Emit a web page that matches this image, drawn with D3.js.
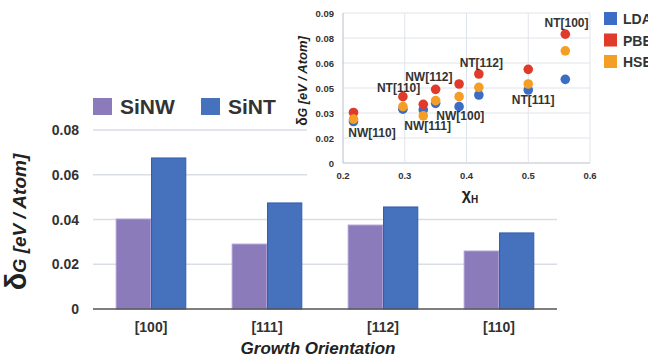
<!DOCTYPE html>
<html>
<head>
<meta charset="utf-8">
<script src="https://cdn.jsdelivr.net/npm/d3@7"></script>
<style>
  body { margin: 0; background: #fff; }
  svg { font-family: "Liberation Sans", Arial, sans-serif; display: block; }
</style>
</head>
<body>
<div id="chart"></div>
<script>
// main bar chart data
var orientations = ["[100]", "[111]", "[112]", "[110]"];
var sinw = [0.0402, 0.0290, 0.0375, 0.0259];
var sint = [0.0675, 0.0474, 0.0456, 0.0340];
var barTicks = [0, 0.02, 0.04, 0.06, 0.08];

// inset scatter data
var chiH = [0.217, 0.297, 0.330, 0.350, 0.388, 0.420, 0.500, 0.560];
var lda = [0.0249, 0.0323, 0.0319, 0.0358, 0.0338, 0.0408, 0.0438, 0.0502];
var pbe = [0.0303, 0.0398, 0.0352, 0.0442, 0.0474, 0.0534, 0.0562, 0.0773];
var hse = [0.0263, 0.0338, 0.0283, 0.0374, 0.0398, 0.0454, 0.0474, 0.0673];
var insetYTicks = [0, 0.015, 0.03, 0.045, 0.06, 0.075, 0.09];
var insetYLabels = ["0", "0.02", "0.03", "0.05", "0.06", "0.08", "0.09"];
var insetXTicks = [0.2, 0.3, 0.4, 0.5, 0.6];
// point labels, anchored in data space
var labelNames = ["NW[110]", "NT[110]", "NW[111]", "NW[112]", "NW[100]", "NT[112]", "NT[111]", "NT[100]"];
var labelX = [0.247, 0.290, 0.337, 0.339, 0.390, 0.424, 0.508, 0.562];
var labelY = [0.0156, 0.0426, 0.0198, 0.0490, 0.0258, 0.0576, 0.0354, 0.0816];

var width = 648, height = 358;
var svg = d3.select("#chart").append("svg")
    .attr("width", width).attr("height", height);

svg.append("rect").attr("width", width).attr("height", height).attr("fill", "#fff");

// ---------- main chart ----------
var main = {left: 93, right: 557, top: 130, bottom: 309};
var x = d3.scaleBand().domain(orientations).range([main.left, main.right]).paddingInner(0.4).paddingOuter(0.2);
var x1 = d3.scaleBand().domain(["SiNW", "SiNT"]).range([0, x.bandwidth()]).paddingInner(0.03);
var y = d3.scaleLinear().domain([0, 0.08]).range([main.bottom, main.top]);
var colors = {SiNW: "#8c7bbb", SiNT: "#4571bd"};
var strokes = {SiNW: "#a99ad0", SiNT: "#2f5eab"};

// gridlines
svg.append("g").selectAll("line").data(barTicks.slice(1)).enter().append("line")
    .attr("x1", main.left).attr("x2", main.right)
    .attr("y1", d => y(d)).attr("y2", d => y(d))
    .attr("stroke", "#d9dee5").attr("stroke-width", 1.5);

var rows = orientations.map(function(o, i) { return {o: o, SiNW: sinw[i], SiNT: sint[i]}; });
var groups = svg.append("g").selectAll("g").data(rows).enter().append("g")
    .attr("transform", d => "translate(" + x(d.o) + ",0)");
groups.selectAll("rect").data(d => ["SiNW", "SiNT"].map(k => ({k: k, v: d[k]}))).enter().append("rect")
    .attr("x", d => x1(d.k)).attr("width", x1.bandwidth())
    .attr("y", d => y(d.v)).attr("height", d => y(0) - y(d.v))
    .attr("fill", d => colors[d.k]).attr("stroke", d => strokes[d.k]).attr("stroke-width", 1);

// baseline
svg.append("line").attr("x1", main.left).attr("x2", main.right)
    .attr("y1", y(0)).attr("y2", y(0)).attr("stroke", "#555").attr("stroke-width", 1.5);

// y tick labels
svg.append("g").selectAll("text").data(barTicks).enter().append("text")
    .attr("x", 79).attr("y", d => y(d) + 5)
    .attr("text-anchor", "end").attr("font-size", 14).attr("font-weight", "bold").attr("fill", "#333")
    .text(d => d === 0 ? "0" : d.toFixed(2));

// x tick labels
svg.append("g").selectAll("text").data(orientations).enter().append("text")
    .attr("x", d => x(d) + x.bandwidth() / 2).attr("y", 332)
    .attr("text-anchor", "middle").attr("font-size", 14).attr("font-weight", "bold").attr("fill", "#333")
    .text(d => d);

// axis titles
svg.append("text").attr("x", 318).attr("y", 354)
    .attr("text-anchor", "middle").attr("font-size", 17).attr("font-weight", "bold").attr("font-style", "italic")
    .attr("fill", "#222").text("Growth Orientation");

var yt = svg.append("text").attr("transform", "translate(26,222) rotate(-90)")
    .attr("text-anchor", "middle").attr("font-weight", "bold").attr("fill", "#222");
yt.append("tspan").attr("font-size", 29).text("δ");
yt.append("tspan").attr("font-size", 18).attr("font-style", "italic").text("G");
yt.append("tspan").attr("font-size", 19).attr("font-style", "italic").text(" [eV / Atom]");

// main legend
var legend = svg.append("g");
[["SiNW", 93], ["SiNT", 201]].forEach(function(l) {
  legend.append("rect").attr("x", l[1]).attr("y", 98).attr("width", 19).attr("height", 17).attr("fill", colors[l[0]]);
  legend.append("text").attr("x", l[1] + 27).attr("y", 114).attr("font-size", 21).attr("font-weight", "bold")
      .attr("fill", "#333").text(l[0]);
});

// ---------- inset ----------
svg.append("rect").attr("x", 307).attr("y", 0).attr("width", 341).attr("height", 205).attr("fill", "#fff");

var ins = {left: 343, right: 590, top: 13, bottom: 163};
var ix = d3.scaleLinear().domain([0.2, 0.6]).range([ins.left, ins.right]);
var iy = d3.scaleLinear().domain([0, 0.09]).range([ins.bottom, ins.top]);

var ig = svg.append("g");
ig.selectAll(".hg").data(insetYTicks).enter().append("line")
    .attr("x1", ins.left).attr("x2", ins.right).attr("y1", d => iy(d)).attr("y2", d => iy(d))
    .attr("stroke", d => d === 0 ? "#b8bec6" : "#dfe4ea").attr("stroke-width", 1);
ig.selectAll(".vg").data(insetXTicks).enter().append("line")
    .attr("y1", ins.top).attr("y2", ins.bottom).attr("x1", d => ix(d)).attr("x2", d => ix(d))
    .attr("stroke", d => d === 0.2 ? "#b8bec6" : "#dfe4ea").attr("stroke-width", 1);

ig.selectAll(".yl").data(insetYTicks).enter().append("text")
    .attr("x", 334).attr("y", d => iy(d) + 3.5)
    .attr("text-anchor", "end").attr("font-size", 9.5).attr("font-weight", "bold").attr("fill", "#333")
    .text((d, i) => insetYLabels[i]);
ig.selectAll(".xl").data(insetXTicks).enter().append("text")
    .attr("x", d => ix(d)).attr("y", 179)
    .attr("text-anchor", "middle").attr("font-size", 9.5).attr("font-weight", "bold").attr("fill", "#333")
    .text(d => d.toFixed(1));

var xt = ig.append("text").attr("x", 470).attr("y", 200).attr("text-anchor", "middle")
    .attr("font-weight", "bold").attr("fill", "#222");
xt.append("tspan").attr("font-size", 16).text("χ");
xt.append("tspan").attr("font-size", 10).attr("dy", 3).text("H");

var iyt = ig.append("text").attr("transform", "translate(307,81) rotate(-90)")
    .attr("text-anchor", "middle").attr("font-weight", "bold").attr("font-style", "italic").attr("fill", "#222");
iyt.append("tspan").attr("font-size", 14).attr("font-style", "normal").text("δ");
iyt.append("tspan").attr("font-size", 12).text("G");
iyt.append("tspan").attr("font-size", 13).text(" [eV / Atom]");

var series = [
  {name: "LDA", values: lda, color: "#3b6cc6"},
  {name: "HSE", values: hse, color: "#f59e25"},
  {name: "PBE", values: pbe, color: "#e03a2a"}
];
// draw LDA, then PBE, then HSE on top (as in the figure)
[series[0], series[2], series[1]].forEach(function(s) {
  ig.append("g").selectAll("circle").data(s.values).enter().append("circle")
      .attr("cx", (d, i) => ix(chiH[i])).attr("cy", d => iy(d)).attr("r", 4.8)
      .attr("fill", s.color);
});

ig.selectAll(".pl").data(labelNames).enter().append("text")
    .attr("x", (d, i) => ix(labelX[i])).attr("y", (d, i) => iy(labelY[i]))
    .attr("text-anchor", "middle").attr("font-size", 12).attr("font-weight", "bold").attr("fill", "#333")
    .text(d => d);

// inset legend
var legendOrder = [series[0], series[2], series[1]];
legendOrder.forEach(function(s, i) {
  ig.append("rect").attr("x", 604).attr("y", 12 + i * 21.5).attr("width", 13).attr("height", 13).attr("fill", s.color);
  ig.append("text").attr("x", 623).attr("y", 24 + i * 21.5).attr("font-size", 14).attr("font-weight", "bold")
      .attr("fill", "#333").text(s.name);
});
</script>
</body>
</html>
